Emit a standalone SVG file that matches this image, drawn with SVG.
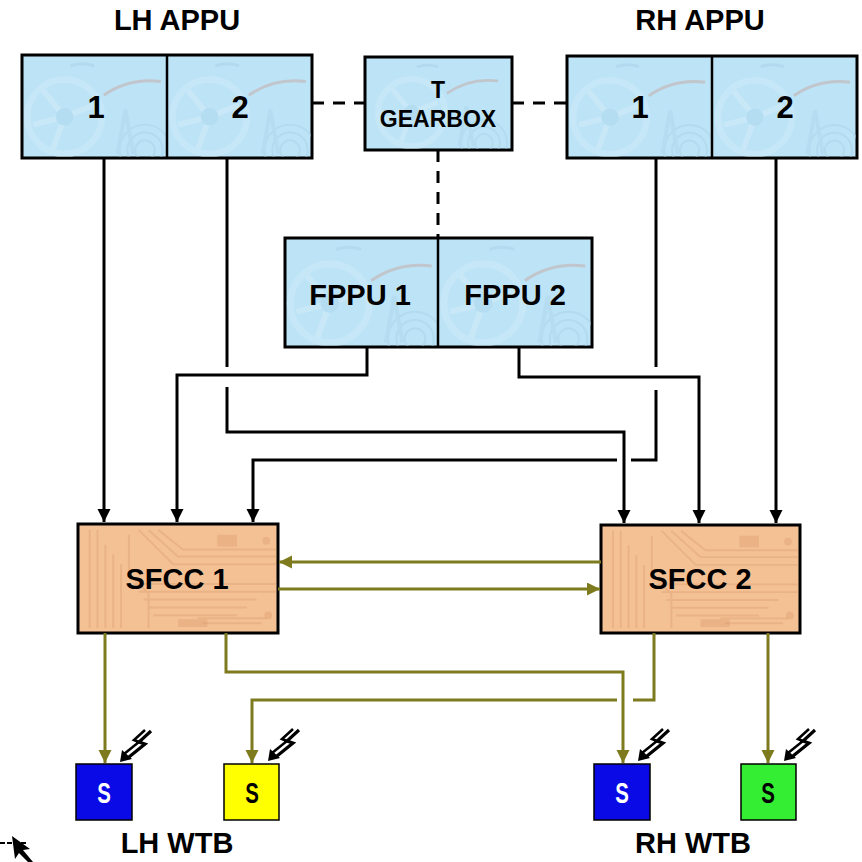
<svg xmlns="http://www.w3.org/2000/svg" xmlns:xlink="http://www.w3.org/1999/xlink" width="862" height="862" viewBox="0 0 862 862">
  <style>
    text { font-family: "Liberation Sans", Arial, sans-serif; font-weight: bold; fill: #000; }
    .lbl { font-size: 29px; text-anchor: middle; }
    .num { font-size: 31px; text-anchor: middle; }
    .gb { font-size: 23px; text-anchor: middle; }
    .unit { fill: #bde3f6; stroke: #000; stroke-width: 3; }
    .ctl { fill: #f4c195; stroke: #000; stroke-width: 3; }
    .div { stroke: #000; stroke-width: 2.5; }
    .sen { stroke: #000; stroke-width: 1.5; }
    .blk { fill: none; stroke: #000; stroke-width: 3; }
    .olv { fill: none; stroke: #7d7b1e; stroke-width: 3; }
    .dash { fill: none; stroke: #000; stroke-width: 3; stroke-dasharray: 12 9; }
    .s { font-size: 30px; text-anchor: middle; }
  </style>
  <defs>
    <marker id="ahK" markerUnits="userSpaceOnUse" markerWidth="14" markerHeight="14" refX="13" refY="6.5" orient="auto">
      <path d="M0,0 L13,6.5 L0,13 z" fill="#000"/>
    </marker>
    <marker id="ahO" markerUnits="userSpaceOnUse" markerWidth="14" markerHeight="14" refX="13" refY="6.5" orient="auto">
      <path d="M0,0 L13,6.5 L0,13 z" fill="#7d7b1e"/>
    </marker>
    <!-- faint turbine artwork inside the power unit cells -->
    <symbol id="gear" viewBox="0 0 145 103">
      <g opacity="0.45">
        <circle cx="42" cy="62" r="38" fill="none" stroke="#d2ecfa" stroke-width="7"/>
        <path d="M42,62 L20,35 M42,62 L72,50 M42,62 L30,95 M42,62 L10,70" stroke="#d6eefa" stroke-width="6"/>
        <circle cx="42" cy="62" r="9" fill="#acd6ed"/>
        <path d="M82,40 Q108,22 140,26" fill="none" stroke="#c8a39a" stroke-width="3"/>
        <circle cx="124" cy="96" r="10" fill="none" stroke="#a8d2ea" stroke-width="2"/>
        <circle cx="124" cy="96" r="18" fill="none" stroke="#a8d2ea" stroke-width="2"/>
        <circle cx="124" cy="96" r="26" fill="none" stroke="#a8d2ea" stroke-width="2"/>
        <path d="M96,100 L104,55 L112,100" fill="none" stroke="#acd5ec" stroke-width="4"/>
        <path d="M48,10 Q60,6 72,10" fill="none" stroke="#a6cfe6" stroke-width="3"/>
      </g>
    </symbol>
    <!-- faint circuit-board artwork inside the flight control computers -->
    <symbol id="pcb" viewBox="0 0 200 109">
      <g fill="none" stroke="#e2a677" stroke-width="2" opacity="0.5">
        <path d="M10,5 V105 M18,5 V105 M26,20 V105 M34,30 V105 M42,40 V105"/>
        <path d="M60,5 L95,40 H200 M70,5 L100,32 H200 M80,5 L105,25 H200"/>
        <path d="M55,60 H200 M60,68 H200 M65,76 H180 M70,84 H170 M75,92 H160"/>
        <path d="M120,95 H190 M125,100 H185"/>
        <path d="M50,10 V50 L70,70 V105"/>
      </g>
      <g fill="#d99868" opacity="0.35">
        <rect x="140" y="10" width="20" height="12"/>
        <rect x="100" y="96" width="30" height="8"/>
        <circle cx="190" cy="16" r="4"/>
        <circle cx="192" cy="92" r="4"/>
      </g>
    </symbol>
    <!-- incoming signal symbol, tip at the origin -->
    <g id="zap">
      <path d="M31,-31 L19,-20 L25,-18 L9,-5" fill="none" stroke="#000" stroke-width="3.2"/>
      <path d="M25,-32 L14,-22 L19,-20 L4,-8" fill="none" stroke="#000" stroke-width="2.6"/>
      <polygon points="0,0 2,-12 12,-3" fill="#000"/>
    </g>
  </defs>

  <rect width="862" height="862" fill="#fff"/>

  <!-- titles -->
  <text class="lbl" x="177" y="30">LH APPU</text>
  <text class="lbl" x="700" y="30">RH APPU</text>

  <g id="lh-appu">
    <rect class="unit" x="22" y="55" width="290" height="103"/>
    <use xlink:href="#gear" x="23" y="56" width="143" height="101"/>
    <use xlink:href="#gear" x="168" y="56" width="143" height="101"/>
    <line class="div" x1="167" y1="55" x2="167" y2="158"/>
    <text class="num" x="96" y="118">1</text>
    <text class="num" x="240" y="118">2</text>
  </g>

  <g id="gearbox">
    <rect class="unit" x="365" y="57" width="147" height="93"/>
    <use xlink:href="#gear" x="366" y="58" width="145" height="91"/>
    <text class="gb" x="438" y="98">T</text>
    <text class="gb" x="438" y="127">GEARBOX</text>
  </g>

  <g id="rh-appu">
    <rect class="unit" x="567" y="56" width="290" height="102"/>
    <use xlink:href="#gear" x="568" y="57" width="143" height="100"/>
    <use xlink:href="#gear" x="713" y="57" width="143" height="100"/>
    <line class="div" x1="712" y1="56" x2="712" y2="158"/>
    <text class="num" x="640" y="118">1</text>
    <text class="num" x="785" y="118">2</text>
  </g>

  <g id="fppu">
    <rect class="unit" x="285" y="238" width="307" height="109"/>
    <use xlink:href="#gear" x="286" y="239" width="151" height="107"/>
    <use xlink:href="#gear" x="439" y="239" width="152" height="107"/>
    <line class="div" x1="438" y1="238" x2="438" y2="347"/>
    <text class="lbl" x="360" y="305">FPPU 1</text>
    <text class="lbl" x="515" y="305">FPPU 2</text>
  </g>

  <g id="sfcc1">
    <rect class="ctl" x="78" y="524" width="200" height="109"/>
    <use xlink:href="#pcb" x="79" y="525" width="198" height="107"/>
    <text class="lbl" x="177" y="589">SFCC 1</text>
  </g>

  <g id="sfcc2">
    <rect class="ctl" x="601" y="525" width="199" height="108"/>
    <use xlink:href="#pcb" x="602" y="526" width="197" height="106"/>
    <text class="lbl" x="700" y="589">SFCC 2</text>
  </g>

  <g id="connectors">
    <!-- mechanical drive links -->
    <path class="dash" d="M312,103 H365"/>
    <path class="dash" d="M512,103 H568"/>
    <path class="dash" d="M438,150 V238"/>

    <!-- power unit signals to the control computers -->
    <path class="blk" d="M104,158 V522" marker-end="url(#ahK)"/>
    <path class="blk" d="M367,347 V375 H177 V522" marker-end="url(#ahK)"/>
    <path class="blk" d="M227,158 V367"/>
    <path class="blk" d="M227,387 V432 H624 V523" marker-end="url(#ahK)"/>
    <path class="blk" d="M656,158 V367"/>
    <path class="blk" d="M656,390 V460 H631"/>
    <path class="blk" d="M617,460 H253 V522" marker-end="url(#ahK)"/>
    <path class="blk" d="M519,347 V377 H699 V523" marker-end="url(#ahK)"/>
    <path class="blk" d="M776,158 V523" marker-end="url(#ahK)"/>

    <!-- cross channel data -->
    <path class="olv" d="M601,562 H279" marker-end="url(#ahO)"/>
    <path class="olv" d="M278,589 H600" marker-end="url(#ahO)"/>

    <!-- brake sensor links -->
    <path class="olv" d="M105,633 V763" marker-end="url(#ahO)"/>
    <path class="olv" d="M226,633 V672 H623 V763" marker-end="url(#ahO)"/>
    <path class="olv" d="M654,633 V700 H633"/>
    <path class="olv" d="M617,700 H252 V763" marker-end="url(#ahO)"/>
    <path class="olv" d="M768,633 V763" marker-end="url(#ahO)"/>
  </g>

  <g id="lh-wtb">
    <g id="sensor-lh-1">
      <rect class="sen" x="76" y="764" width="56" height="56" fill="#0a0ae6"/>
      <text class="s" transform="translate(104,803) scale(0.68,1)" style="fill:#fff">S</text>
      <use xlink:href="#zap" transform="translate(120,762)"/>
    </g>
    <g id="sensor-lh-2">
      <rect class="sen" x="224" y="764" width="55" height="56" fill="#ffff00"/>
      <text class="s" transform="translate(252,803) scale(0.68,1)">S</text>
      <use xlink:href="#zap" transform="translate(268,761)"/>
    </g>
    <text class="lbl" x="177" y="853">LH WTB</text>
  </g>

  <g id="rh-wtb">
    <g id="sensor-rh-1">
      <rect class="sen" x="594" y="764" width="56" height="56" fill="#0a0ae6"/>
      <text class="s" transform="translate(622,803) scale(0.68,1)" style="fill:#fff">S</text>
      <use xlink:href="#zap" transform="translate(638,761)"/>
    </g>
    <g id="sensor-rh-2">
      <rect class="sen" x="741" y="764" width="55" height="56" fill="#33ee33"/>
      <text class="s" transform="translate(768,803) scale(0.68,1)">S</text>
      <use xlink:href="#zap" transform="translate(784,761)"/>
    </g>
    <text class="lbl" x="693" y="853">RH WTB</text>
  </g>

  <!-- pointer in the lower left corner -->
  <path d="M0,843 H27" fill="none" stroke="#000" stroke-width="2" stroke-dasharray="5 2"/>
  <polygon points="12,836 30,849 23,850 33,862 28,862 19,853 15,859" fill="#000"/>
</svg>
